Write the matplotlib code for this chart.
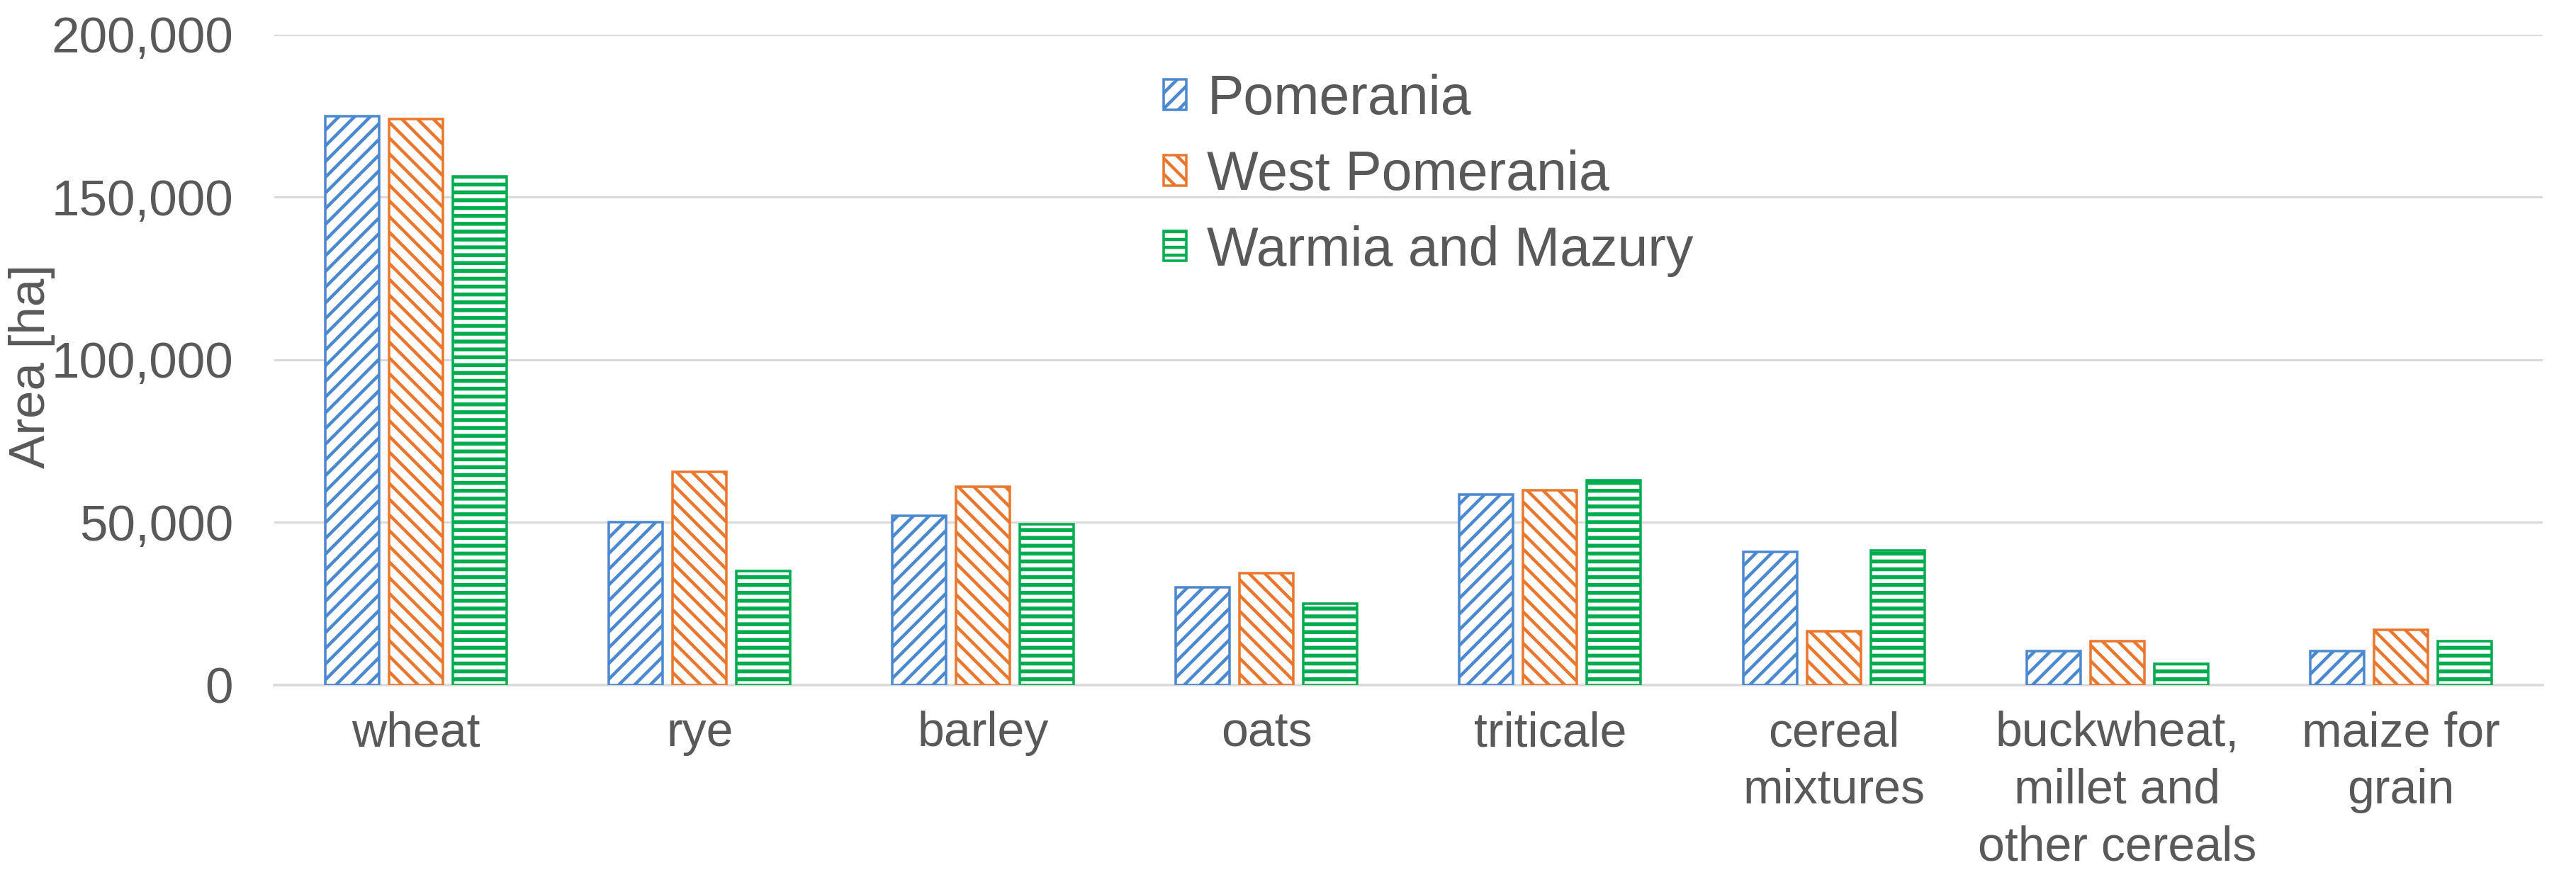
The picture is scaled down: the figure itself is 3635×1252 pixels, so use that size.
import numpy as np
import matplotlib
matplotlib.use("Agg")
import matplotlib.pyplot as plt
from matplotlib.ticker import FuncFormatter

categories = ["wheat", "rye", "barley", "oats", "triticale", "cereal\nmixtures",
              "buckwheat,\nmillet and\nother cereals", "maize for\ngrain"]
pomerania = [175000, 50000, 52000, 30000, 58500, 41000, 10500, 10500]
west_pomerania = [174000, 65500, 61000, 34500, 60000, 16500, 13500, 17000]
warmia_mazury = [156500, 35000, 49500, 25000, 63000, 41500, 6500, 13500]
series_names = ["Pomerania", "West Pomerania", "Warmia and Mazury"]

# dpi chosen so that hatch spacing matches the original pattern
DPI = 133


def px(p):
    # pixel size -> points
    return p * 72.0 / DPI


plt.rcParams["font.family"] = ["Liberation Sans", "DejaVu Sans"]
plt.rcParams["hatch.linewidth"] = px(4.5)
grey = "#595959"

fig = plt.figure(figsize=(3635 / DPI, 1252 / DPI), dpi=DPI)
ax = fig.add_axes([0.1065, 0.2276, 0.8805, 0.7334])

x = np.arange(len(categories))
w = 0.19
step = 0.225
styles = [("#4A88D0", "//", 4.5), ("#E9782E", "\\\\", 4.5), ("#00AC4E", "--", 5.5)]
all_vals = [pomerania, west_pomerania, warmia_mazury]

for i, (vals, name) in enumerate(zip(all_vals, series_names)):
    col, hatch, hlw = styles[i]
    bars = ax.bar(x + (i - 1) * step, vals, width=w, facecolor="white",
                  edgecolor=col, hatch=hatch, linewidth=px(3.5), label=name, zorder=3)
    for b in bars:
        if hasattr(b, "set_hatch_linewidth"):
            b.set_hatch_linewidth(px(hlw))

ax.set_xlim(-0.5, len(categories) - 0.5)
ax.set_ylim(0, 200000)
ax.set_yticks([0, 50000, 100000, 150000, 200000])
ax.yaxis.set_major_formatter(FuncFormatter(lambda v, p: f"{int(v):,}"))
ax.set_xticks(x)
ax.set_xticklabels(categories, linespacing=1.33)

ax.grid(axis="y", color="#D9D9D9", linewidth=px(3), zorder=0)
for s in ["top", "right", "left"]:
    ax.spines[s].set_visible(False)
ax.spines["bottom"].set_color("#D9D9D9")
ax.spines["bottom"].set_linewidth(px(3.5))

ax.tick_params(axis="both", length=0, labelcolor=grey)
ax.tick_params(axis="y", pad=px(58), labelsize=px(71))
ax.tick_params(axis="x", pad=px(36), labelsize=px(68))

ax.set_ylabel("Area [ha]", fontsize=px(71), color=grey, va="center")
ax.yaxis.set_label_coords(-0.107, 0.49)

leg = ax.legend(loc="upper left", bbox_to_anchor=(0.392, 0.94), frameon=False,
                fontsize=px(77), handlelength=0.42, handleheight=0.47,
                handletextpad=0.38, labelspacing=0.44, borderaxespad=0, borderpad=0)
for t in leg.get_texts():
    t.set_color(grey)

fig.savefig("out.png", dpi=DPI, facecolor="white")
